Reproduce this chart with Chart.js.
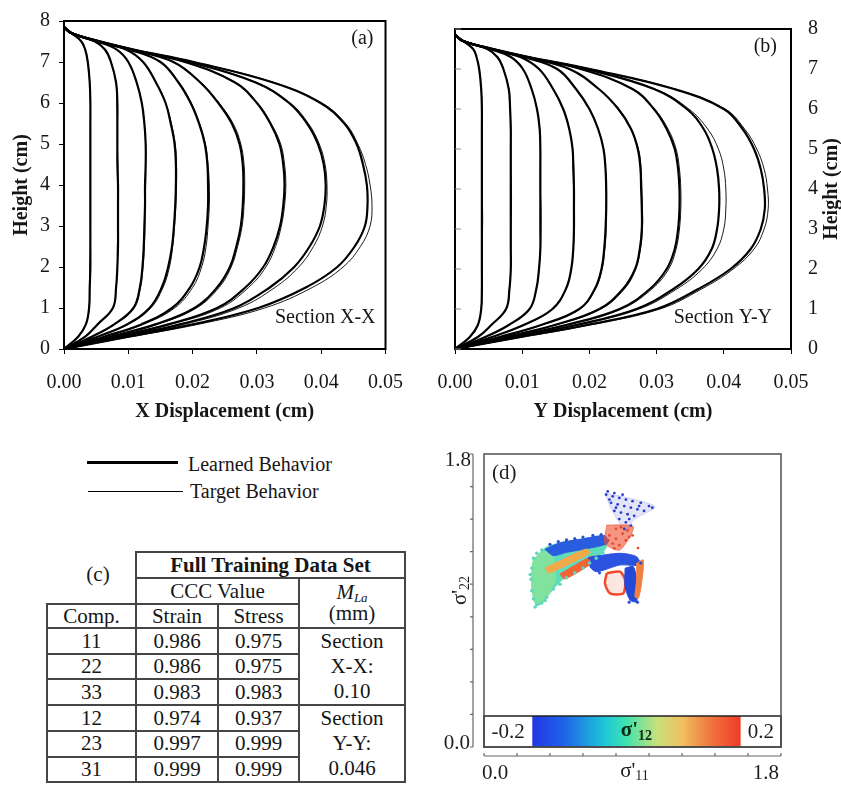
<!DOCTYPE html>
<html><head><meta charset="utf-8">
<script src="https://cdn.jsdelivr.net/npm/chart.js@4.4.1/dist/chart.umd.min.js"></script>
<style>
html,body{margin:0;padding:0;background:#fff;}
body{width:841px;height:787px;position:relative;overflow:hidden;font-family:"Liberation Serif","Times New Roman",serif;color:#161616;}
canvas{position:absolute;}
.lg{position:absolute;background:#000;}
.lt{position:absolute;font-size:20px;line-height:22px;white-space:nowrap;}
#tbl{position:absolute;left:46px;top:551px;width:358px;border-collapse:collapse;table-layout:fixed;font-size:21px;}
#tbl td{border:2px solid #454545;text-align:center;padding:0;line-height:21px;overflow:hidden;white-space:nowrap;}
#tbl td.nob{border-top:none;border-left:none;padding:0 0 6px 14px;}
#tbl td.ml{line-height:25px;vertical-align:middle;}
#tbl td.mh{line-height:21px;}
#tbl sub{font-size:13px;vertical-align:-3px;line-height:0;}
</style></head><body>
<canvas id="ca" width="420" height="430" style="left:0;top:0;width:420px;height:430px"></canvas>
<canvas id="cb" width="421" height="430" style="left:420px;top:0;width:421px;height:430px"></canvas>
<canvas id="cd" width="421" height="347" style="left:420px;top:440px;width:421px;height:347px"></canvas>
<div class="lg" style="left:87px;top:461px;width:91px;height:2.8px"></div>
<div class="lt" style="left:188px;top:453px">Learned Behavior</div>
<div class="lg" style="left:88px;top:490.5px;width:95px;height:1px"></div>
<div class="lt" style="left:190px;top:480px">Target Behavior</div>
<table id="tbl"></table>
<script>
// ---------------- DATA ----------------
const heights = [0,0.3,0.6,1.0,1.5,2.0,2.5,3.0,3.5,4.0,4.5,5.0,5.5,6.0,6.5,7.0,7.3,7.5,7.7,7.85];
const xTicks = [0,0.01,0.02,0.03,0.04,0.05];
const hTicks = [0,1,2,3,4,5,6,7,8];

// Section X-X : X displacement (cm) at each height, learned (thick) and target (thin)
const learnedXX = [
 [0,.0022,.0034,.0039,.0040,.0041,.0041,.0041,.0041,.0041,.0041,.0041,.0041,.0041,.0040,.0037,.0033,.0027,.0012,0],
 [0,.0033,.0052,.0076,.0081,.0083,.0084,.0084,.0084,.0084,.0083,.0083,.0083,.0083,.0081,.0073,.0064,.0048,.0012,0],
 [0,.0043,.0078,.0108,.0118,.0122,.0124,.0125,.0126,.0126,.0127,.0127,.0125,.0121,.0113,.0100,.0082,.0052,.0012,0],
 [0,.0052,.0098,.0133,.0152,.0162,.0168,.0171,.0173,.0174,.0174,.0172,.0166,.0158,.0143,.0123,.0097,.0052,.0012,0],
 [0,.0062,.0120,.0168,.0196,.0211,.0218,.0222,.0224,.0224,.0223,.0219,.0210,.0197,.0178,.0150,.0102,.0053,.0012,0],
 [0,.0072,.0142,.0203,.0238,.0258,.0268,.0275,.0278,.0279,.0278,.0273,.0261,.0240,.0212,.0170,.0104,.0054,.0012,0],
 [0,.0082,.0162,.0238,.0282,.0310,.0326,.0336,.0341,.0343,.0341,.0335,.0321,.0300,.0266,.0188,.0106,.0055,.0012,0],
 [0,.0090,.0180,.0265,.0320,.0358,.0382,.0398,.0405,.0407,.0404,.0395,.0378,.0350,.0298,.0195,.0108,.0056,.0012,0],
 [0,.0100,.0200,.0302,.0376,.0425,.0452,.0468,.0472,.0471,.0465,.0455,.0436,.0399,.0325,.0202,.0110,.0057,.0012,0]
];
const targetXX = [
 [0,.0021,.0034,.0039,.0040,.0040,.0041,.0041,.0041,.0041,.0041,.0041,.0041,.0041,.0040,.0037,.0033,.0027,.0012,0],
 [0,.0033,.0053,.0076,.0081,.0083,.0083,.0084,.0084,.0084,.0084,.0083,.0083,.0082,.0081,.0073,.0064,.0048,.0012,0],
 [0,.0044,.0079,.0109,.0119,.0123,.0125,.0126,.0126,.0127,.0127,.0127,.0125,.0121,.0113,.0100,.0082,.0052,.0012,0],
 [0,.0053,.0100,.0135,.0154,.0164,.0169,.0172,.0174,.0175,.0175,.0173,.0167,.0158,.0143,.0123,.0097,.0052,.0012,0],
 [0,.0064,.0123,.0172,.0200,.0214,.0221,.0224,.0226,.0226,.0224,.0220,.0211,.0198,.0179,.0150,.0102,.0053,.0012,0],
 [0,.0074,.0145,.0206,.0241,.0260,.0270,.0277,.0280,.0281,.0280,.0275,.0263,.0241,.0213,.0170,.0104,.0054,.0012,0],
 [0,.0084,.0166,.0243,.0287,.0314,.0329,.0338,.0343,.0345,.0343,.0337,.0322,.0301,.0267,.0189,.0106,.0055,.0012,0],
 [0,.0093,.0186,.0272,.0328,.0365,.0388,.0402,.0408,.0409,.0406,.0397,.0380,.0352,.0300,.0196,.0108,.0056,.0012,0],
 [0,.0104,.0208,.0312,.0386,.0434,.0461,.0476,.0479,.0476,.0469,.0457,.0438,.0401,.0327,.0203,.0110,.0057,.0012,0]
];
// Section Y-Y : Y displacement (cm)
const learnedYY = [
 [0,.0022,.0034,.0039,.0040,.0040,.0040,.0040,.0040,.0040,.0040,.0040,.0040,.0040,.0039,.0036,.0032,.0027,.0012,0],
 [0,.0034,.0054,.0076,.0081,.0083,.0083,.0083,.0083,.0083,.0083,.0083,.0083,.0082,.0080,.0072,.0063,.0048,.0012,0],
 [0,.0045,.0080,.0111,.0121,.0125,.0127,.0127,.0127,.0127,.0127,.0127,.0126,.0122,.0114,.0101,.0083,.0052,.0012,0],
 [0,.0055,.0102,.0145,.0165,.0173,.0176,.0177,.0177,.0177,.0176,.0175,.0170,.0161,.0146,.0125,.0097,.0052,.0012,0],
 [0,.0066,.0128,.0185,.0208,.0218,.0222,.0224,.0225,.0225,.0224,.0221,.0213,.0200,.0180,.0152,.0102,.0053,.0012,0],
 [0,.0075,.0148,.0215,.0250,.0268,.0275,.0278,.0278,.0277,.0276,.0272,.0262,.0243,.0214,.0170,.0104,.0054,.0012,0],
 [0,.0083,.0165,.0245,.0290,.0315,.0327,.0332,.0334,.0334,.0332,.0327,.0315,.0296,.0264,.0187,.0106,.0055,.0012,0],
 [0,.0090,.0180,.0270,.0325,.0362,.0382,.0390,.0393,.0393,.0390,.0383,.0370,.0345,.0296,.0194,.0108,.0056,.0012,0],
 [0,.0098,.0196,.0300,.0362,.0410,.0440,.0455,.0461,.0460,.0455,.0445,.0428,.0400,.0326,.0201,.0110,.0057,.0012,0]
];
const targetYY = [
 [0,.0022,.0034,.0039,.0040,.0040,.0040,.0041,.0041,.0040,.0040,.0040,.0040,.0040,.0039,.0036,.0032,.0027,.0012,0],
 [0,.0034,.0054,.0076,.0081,.0083,.0083,.0083,.0084,.0084,.0083,.0083,.0083,.0082,.0080,.0072,.0063,.0048,.0012,0],
 [0,.0045,.0080,.0111,.0121,.0125,.0127,.0128,.0128,.0127,.0127,.0127,.0126,.0122,.0114,.0101,.0083,.0052,.0012,0],
 [0,.0055,.0103,.0146,.0165,.0173,.0176,.0177,.0177,.0177,.0177,.0175,.0170,.0161,.0146,.0125,.0097,.0052,.0012,0],
 [0,.0067,.0129,.0186,.0209,.0219,.0223,.0225,.0225,.0225,.0224,.0221,.0213,.0200,.0180,.0152,.0102,.0053,.0012,0],
 [0,.0076,.0150,.0217,.0252,.0269,.0276,.0279,.0279,.0278,.0277,.0273,.0262,.0244,.0214,.0170,.0104,.0054,.0012,0],
 [0,.0085,.0168,.0248,.0293,.0318,.0329,.0334,.0336,.0336,.0334,.0329,.0317,.0297,.0265,.0187,.0106,.0055,.0012,0],
 [0,.0092,.0184,.0274,.0330,.0368,.0390,.0400,.0403,.0403,.0400,.0392,.0376,.0348,.0298,.0194,.0108,.0056,.0012,0],
 [0,.0101,.0201,.0305,.0367,.0414,.0445,.0460,.0466,.0465,.0460,.0449,.0431,.0402,.0327,.0201,.0110,.0057,.0012,0]
];

// Table (c)
const comps = ['11','22','33','12','23','31'];
const strainCCC = ['0.986','0.986','0.983','0.974','0.997','0.999'];
const stressCCC = ['0.975','0.975','0.983','0.937','0.999','0.999'];
const mlaGroups = [['Section','X-X:','0.10'],['Section','Y-Y:','0.046']];

// Panel (d): sigma'11 vs sigma'22 point-cloud regions (outlines)
const dTicks = [0,0.2,0.4,0.6,0.8,1.0,1.2,1.4,1.6,1.8];
const cloudMain = [[0.299,1.149],[0.380,1.230],[0.501,1.261],[0.622,1.282],[0.733,1.292],[0.744,1.230],[0.703,1.179],[0.622,1.128],[0.541,1.077],[0.461,1.015],[0.400,0.944],[0.339,0.872],[0.309,0.883],[0.289,0.985],[0.289,1.067]];
const greenLobe = [[0.289,1.067],[0.300,1.150],[0.360,1.200],[0.420,1.160],[0.430,1.020],[0.370,0.910],[0.315,0.880],[0.289,0.985]];
const bandBlue = [[0.370,1.215],[0.461,1.255],[0.582,1.276],[0.733,1.298],[0.748,1.251],[0.622,1.218],[0.501,1.196],[0.420,1.176]];
const streakYellow = [[0.370,1.100],[0.618,1.216],[0.642,1.192],[0.394,1.069]];
const streakRed = [[0.461,1.063],[0.655,1.173],[0.679,1.149],[0.491,1.032]];
const triangle = [[0.733,1.559],[0.844,1.538],[1.036,1.476],[0.905,1.394],[0.865,1.323],[0.774,1.456]];
const neck = [[0.744,1.364],[0.905,1.353],[0.824,1.210],[0.733,1.251]];
const rightBlue = [[0.653,1.169],[0.824,1.190],[0.925,1.169],[0.945,1.118],[0.824,1.118],[0.683,1.077],[0.642,1.108]];
const redLoop = [[0.744,1.067],[0.824,1.077],[0.855,1.026],[0.844,0.944],[0.764,0.944],[0.733,1.005]];
const rightBlueV = [[0.855,1.098],[0.905,1.108],[0.925,1.026],[0.925,0.893],[0.885,0.903],[0.855,0.985]];
const rightOrange = [[0.925,1.128],[0.965,1.149],[0.955,1.006],[0.935,0.913],[0.915,0.923],[0.925,1.026]];
const triDots = [[0.74,1.55],[0.78,1.54],[0.82,1.53],[0.86,1.52],[0.90,1.51],[0.95,1.50],[1.00,1.48],[0.77,1.50],[0.81,1.49],[0.85,1.48],[0.89,1.47],[0.93,1.46],[0.97,1.45],[0.79,1.45],[0.83,1.44],[0.87,1.43],[0.91,1.42],[0.82,1.40],[0.86,1.38],[0.89,1.36],[0.85,1.34],[0.76,1.52],[0.94,1.48],[0.80,1.47],[0.88,1.40],[0.75,1.57],[0.79,1.56],[1.02,1.47],[0.84,1.55]];
const neckDots = [[0.76,1.30],[0.80,1.28],[0.84,1.31],[0.87,1.33],[0.78,1.25],[0.82,1.24],[0.86,1.27],[0.80,1.34],[0.90,1.30],[0.933,1.222],[0.75,1.27],[0.83,1.35],[0.88,1.29],[0.79,1.22]];
const cyanDots = [[0.30,1.16],[0.32,1.19],[0.35,1.21],[0.29,1.10],[0.285,1.03],[0.29,0.96],[0.30,0.91],[0.32,0.875],[0.35,0.885],[0.38,0.92],[0.42,0.97],[0.46,1.00],[0.50,1.04],[0.55,1.07],[0.60,1.10],[0.64,1.13],[0.68,1.16],[0.72,1.19],[0.28,1.06],[0.31,0.86],[0.37,0.90]];
const blueDots = [[0.40,1.245],[0.45,1.262],[0.50,1.272],[0.55,1.28],[0.60,1.29],[0.66,1.30],[0.71,1.305],[0.75,1.27],[0.64,1.16],[0.70,1.07],[0.95,1.13],[0.93,0.89],[0.88,0.89]];
const cbTicks = ['-0.2','0.2'];
const cbStops = [0,0.15,0.35,0.45,0.6,0.72,0.85,1];
const cbColors = ['#2337e6','#1f62e8','#1ec8d8','#3ee3b0','#c8e07a','#f0c060','#f07840','#f03c28'];

// ---------------- RENDER ----------------
const FONT = '"Liberation Serif","Times New Roman",serif';
Chart.defaults.font.family = FONT;
Chart.defaults.color = '#161616';

function drawSub(ctx, base, sub, x, y, bf, sf, color, align){
  ctx.save();
  ctx.fillStyle = color; ctx.textBaseline = 'middle';
  ctx.font = bf + ' ' + FONT; const wb = ctx.measureText(base).width;
  ctx.font = sf + ' ' + FONT; const ws = ctx.measureText(sub).width;
  let sx = align === 'center' ? x - (wb+ws)/2 : x;
  ctx.textAlign = 'left';
  ctx.font = bf + ' ' + FONT; ctx.fillText(base, sx, y);
  ctx.font = sf + ' ' + FONT; ctx.fillText(sub, sx + wb, y + 5);
  ctx.restore();
}

function profileChart(id, learned, target, cfg){
  const datasets = [];
  learned.forEach((xs, i) => {
    datasets.push({data: heights.map((h,j)=>({x: target[i][j], y: h})), borderColor:'#000', borderWidth:0.9, pointRadius:0, showLine:true, tension:0.4, fill:false});
    datasets.push({data: heights.map((h,j)=>({x: xs[j], y: h})), borderColor:'#000', borderWidth:2.2, pointRadius:0, showLine:true, tension:0.4, fill:false});
  });
  const deco = {
    id:'deco'+id,
    afterDraw(chart){
      const {ctx, chartArea:ca, scales:{y}} = chart;
      ctx.save();
      ctx.strokeStyle = '#000'; ctx.lineWidth = 2;
      ctx.strokeRect(ca.left, ca.top, ca.right-ca.left, ca.bottom-ca.top);
      if (cfg.innerTicks){
        ctx.strokeStyle = '#888'; ctx.lineWidth = 1;
        ctx.beginPath();
        hTicks.forEach(v=>{const py = y.getPixelForValue(v); ctx.moveTo(ca.left, py); ctx.lineTo(ca.left + 6, py);});
        ctx.stroke();
      }
      ctx.fillStyle = '#161616'; ctx.textBaseline = 'middle'; ctx.textAlign = 'right';
      ctx.font = '20px ' + FONT;
      ctx.fillText(cfg.tag, ca.right - cfg.tagDx, ca.top + 18);
      ctx.fillText(cfg.section, ca.right - cfg.secDx, ca.bottom - 31);
      if (cfg.rightTitle){
        ctx.font = 'bold 20px ' + FONT; ctx.textAlign = 'center';
        ctx.translate(chart.width - 9, (ca.top + ca.bottom)/2);
        ctx.rotate(-Math.PI/2);
        ctx.fillText(cfg.rightTitle, 0, 0);
      }
      ctx.restore();
    }
  };
  const yRight = cfg.yPos === 'right';
  return new Chart(document.getElementById(id), {
    type:'scatter',
    data:{datasets},
    options:{
      responsive:false, animation:false, devicePixelRatio:1,
      layout:{padding: cfg.padding},
      plugins:{legend:{display:false}, tooltip:{enabled:false}},
      scales:{
        x:{type:'linear', min:0, max:0.05, position:'bottom',
           afterFit:s=>{s.height=81;},
           afterBuildTicks:s=>{s.ticks = xTicks.map(v=>({value:v}));},
           border:{display:false},
           grid:{display:true, drawOnChartArea:false, drawTicks:true, tickLength:5, color:'#000', lineWidth:1},
           ticks:{callback:v=>v.toFixed(2), font:{size:20, family:FONT}, color:'#161616', padding:17, maxRotation:0, autoSkip:false},
           title:{display:true, text:cfg.xTitle, font:{size:20, weight:'bold', family:FONT}, color:'#161616', padding:{top:0,bottom:6}}
        },
        y:{type:'linear', min:0, max:8, position:cfg.yPos,
           afterFit:s=>{s.width=cfg.yWidth;},
           afterBuildTicks:s=>{s.ticks = hTicks.map(v=>({value:v}));},
           border:{display:false},
           grid: yRight ? {display:false, drawTicks:false} : {display:true, drawOnChartArea:false, drawTicks:true, tickLength:5, color:'#000'},
           ticks:{font:{size:20, family:FONT}, color:'#161616', padding: yRight ? 17 : 9, autoSkip:false},
           title:{display:!yRight, text:'Height (cm)', font:{size:20, weight:'bold', family:FONT}, color:'#161616', padding:{top:10,bottom:0}}
        }
      }
    },
    plugins:[deco]
  });
}

profileChart('ca', learnedXX, targetXX, {tag:'(a)', section:'Section X-X', tagDx:12, secDx:10, xTitle:'X Displacement (cm)', yPos:'left', yWidth:64, padding:{top:13,right:20,left:0,bottom:0}});
profileChart('cb', learnedYY, targetYY, {tag:'(b)', section:'Section Y-Y', tagDx:14, secDx:19, xTitle:'Y Displacement (cm)', yPos:'right', yWidth:50, rightTitle:'Height (cm)', innerTicks:true, padding:{top:13,right:0,left:35,bottom:0}});

// ---- table (c)
(function(){
  const t = document.getElementById('tbl');
  let h = '<colgroup><col style="width:89px"><col style="width:82px"><col style="width:81px"><col style="width:106px"></colgroup>';
  h += '<tr style="height:26px"><td rowspan="2" class="nob">(c)</td><td colspan="3"><b>Full Training Data Set</b></td></tr>';
  h += '<tr style="height:26px"><td colspan="2">CCC Value</td><td rowspan="2" class="mh"><i>M<sub>La</sub></i><br>(mm)</td></tr>';
  h += '<tr style="height:24px"><td>Comp.</td><td>Strain</td><td>Stress</td></tr>';
  const rh = [26,25,26,26,25,25];
  comps.forEach((c,i)=>{
    h += '<tr style="height:'+rh[i]+'px"><td>'+c+'</td><td>'+strainCCC[i]+'</td><td>'+stressCCC[i]+'</td>';
    if (i % 3 === 0) h += '<td rowspan="3" class="ml">'+mlaGroups[i/3].join('<br>')+'</td>';
    h += '</tr>';
  });
  t.innerHTML = h;
})();

// ---- panel (d)
function poly(pts, fillColor, stroke, bw){
  const d = pts.map(([x,y])=>({x,y})); d.push({x:pts[0][0], y:pts[0][1]});
  return {data:d, showLine:true, fill:'shape', backgroundColor:fillColor, borderColor:stroke||fillColor, borderWidth:bw||1, pointRadius:0, tension:0.25};
}
function dots(pts, color, r){
  return {data:pts.map(([x,y])=>({x,y})), showLine:false, pointRadius:r||1.4, pointBackgroundColor:color, pointBorderWidth:0, backgroundColor:color};
}
const dDecor = {
  id:'dDecor',
  afterDatasetsDraw(chart){
    const {ctx, chartArea:ca, scales:{x, y}} = chart;
    ctx.save();
    const cbH = 31, cbTop = ca.bottom - cbH;
    const gx0 = ca.left + (ca.right-ca.left)*0.1626, gx1 = ca.left + (ca.right-ca.left)*0.864;
    ctx.fillStyle = '#fff'; ctx.fillRect(ca.left, cbTop, ca.right-ca.left, cbH);
    const g = ctx.createLinearGradient(gx0,0,gx1,0);
    cbStops.forEach((s,i)=>g.addColorStop(s, cbColors[i]));
    ctx.fillStyle = g; ctx.fillRect(gx0, cbTop, gx1-gx0, cbH);
    ctx.strokeStyle = '#222'; ctx.lineWidth = 1.5; ctx.strokeRect(ca.left, cbTop, ca.right-ca.left, cbH);
    ctx.fillStyle = '#1e1e1e'; ctx.font = '21px ' + FONT; ctx.textBaseline = 'middle'; ctx.textAlign = 'center';
    ctx.fillText(cbTicks[0], (ca.left+gx0)/2, cbTop + 16);
    ctx.fillText(cbTicks[1], (gx1+ca.right)/2, cbTop + 16);
    drawSub(ctx, "σ'", '12', (gx0+gx1)/2, cbTop + 15, 'bold 21px', 'bold 14px', '#0d2a12', 'center');
    // frame
    ctx.strokeStyle = '#505050'; ctx.lineWidth = 1.5;
    ctx.strokeRect(ca.left, ca.top, ca.right-ca.left, ca.bottom-ca.top);
    ctx.fillStyle = '#1e1e1e'; ctx.textAlign = 'left'; ctx.font = '21px ' + FONT;
    ctx.fillText('(d)', ca.left + 8, ca.top + 19);
    // detached y axis
    const ax = ca.left - 11;
    ctx.strokeStyle = '#666'; ctx.lineWidth = 1.2;
    ctx.beginPath(); ctx.moveTo(ax, y.getPixelForValue(1.8)); ctx.lineTo(ax, y.getPixelForValue(0));
    dTicks.forEach(v=>{const py = y.getPixelForValue(v); ctx.moveTo(ax-3, py); ctx.lineTo(ax, py);});
    ctx.stroke();
    ctx.textAlign = 'right';
    ctx.fillText('1.8', ax - 2, y.getPixelForValue(1.8) + 6);
    ctx.fillText('0.0', ax - 3, y.getPixelForValue(0) - 4);
    // detached x axis
    const ay = ca.bottom + 9;
    ctx.beginPath(); ctx.moveTo(x.getPixelForValue(0), ay); ctx.lineTo(x.getPixelForValue(1.8), ay);
    dTicks.forEach(v=>{const px = x.getPixelForValue(v); ctx.moveTo(px, ay-3); ctx.lineTo(px, ay);});
    ctx.stroke();
    ctx.textAlign = 'left'; ctx.fillText('0.0', x.getPixelForValue(0) - 2, ay + 17);
    ctx.textAlign = 'right'; ctx.fillText('1.8', x.getPixelForValue(1.8) - 2, ay + 17);
    drawSub(ctx, "σ'", '11', (ca.left+ca.right)/2 + 2, ay + 15, '21px', '14px', '#1e1e1e', 'center');
    ctx.translate(40, (ca.top+ca.bottom)/2 - 10);
    ctx.rotate(-Math.PI/2);
    drawSub(ctx, "σ'", '22', 0, 0, '21px', '14px', '#1e1e1e', 'center');
    ctx.restore();
  }
};
// Chart.js draws dataset 0 last (on top): list runs from topmost to bottommost
new Chart(document.getElementById('cd'), {
  type:'scatter',
  data:{datasets:[
    dots(neckDots, '#e84a30'),
    dots(triDots, '#2a3ccc'),
    dots(blueDots, '#2a50d8', 1.6),
    dots(cyanDots, '#5ed8c0', 1.8),
    poly(rightOrange, '#f08040'),
    poly(rightBlueV, '#2448d8'),
    poly(redLoop, 'rgba(245,140,110,0.22)', '#f04a2a', 2.5),
    poly(rightBlue, '#2c52e0'),
    poly(neck, 'rgba(236,80,45,0.6)'),
    poly(streakRed, '#f06436'),
    poly(streakYellow, '#f0aa4c'),
    poly(bandBlue, '#2a5ce0'),
    poly(greenLobe, 'rgba(140,228,150,0.75)', 'rgba(140,228,150,0.75)'),
    poly(cloudMain, '#5fdcbc', '#80e4b0'),
    poly(triangle, 'rgba(80,100,215,0.16)', 'rgba(80,100,215,0.22)')
  ]},
  options:{
    responsive:false, animation:false, devicePixelRatio:1,
    layout:{padding:{left:64,right:60,top:14,bottom:40}},
    plugins:{legend:{display:false}, tooltip:{enabled:false}},
    scales:{x:{type:'linear', min:0, max:1.8, display:false}, y:{type:'linear', min:0, max:1.8, display:false}}
  },
  plugins:[dDecor]
});
</script>
</body></html>
